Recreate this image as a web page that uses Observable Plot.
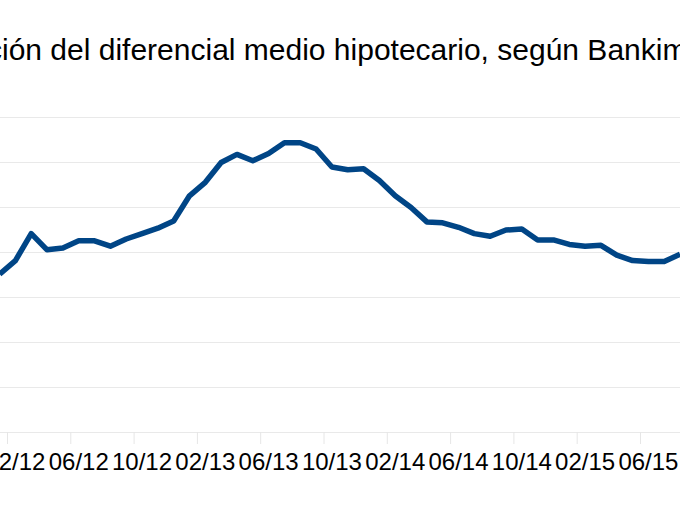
<!DOCTYPE html>
<html>
<head>
<meta charset="utf-8">
<script src="https://cdn.jsdelivr.net/npm/d3@7"></script>
<script src="https://cdn.jsdelivr.net/npm/@observablehq/plot@0.6"></script>
<style>
html, body { margin: 0; padding: 0; background: #fff; }
#wrap { position: relative; width: 680px; height: 510px; overflow: hidden; background: #fff; }
#title { position: absolute; top: 35px; left: 0; white-space: nowrap; font-family: "Liberation Sans", Arial, sans-serif; font-size: 30px; color: #000; line-height: 1; }
#chart { position: absolute; left: 0; top: 90px; }
</style>
</head>
<body>
<div id="wrap">
  <div id="title"><span id="pre">Evoluc</span>ión del diferencial medio hipotecario, según Bankimia</div>
  <div id="chart"></div>
</div>
<script>
// Months shown (01/2012 – 08/2015)
const months = [
  "01/12","02/12","03/12","04/12","05/12","06/12","07/12","08/12","09/12","10/12","11/12","12/12",
  "01/13","02/13","03/13","04/13","05/13","06/13","07/13","08/13","09/13","10/13","11/13","12/13",
  "01/14","02/14","03/14","04/14","05/14","06/14","07/14","08/14","09/14","10/14","11/14","12/14",
  "01/15","02/15","03/15","04/15","05/15","06/15","07/15","08/15"
];
// Average mortgage spread (%)
const spread = [
  1.76, 1.91, 2.21, 2.03, 2.05, 2.13, 2.13, 2.07, 2.15, 2.21, 2.27, 2.35,
  2.63, 2.78, 3.00, 3.09, 3.02, 3.10, 3.22, 3.22, 3.15, 2.95, 2.92, 2.93,
  2.80, 2.63, 2.50, 2.34, 2.33, 2.28, 2.21, 2.18, 2.25, 2.26, 2.14, 2.14,
  2.09, 2.07, 2.08, 1.97, 1.91, 1.90, 1.90, 1.98
];
const gridValues = [0, 0.5, 1, 1.5, 2, 2.5, 3, 3.5];
const tickLabels = ["02/12","06/12","10/12","02/13","06/13","10/13","02/14","06/14","10/14","02/15","06/15"];

const data = months.map((m, i) => ({month: m, u: i + 0.5, value: spread[i]}));
const labelPos = tickLabels.map(l => months.indexOf(l) + 0.5);
const tickPos = tickLabels.map(l => months.indexOf(l));

// position title so that its beginning falls outside the crop
const pre = document.getElementById("pre");
document.getElementById("title").style.left = (2 - pre.getBoundingClientRect().width) + "px";

const step = 15.825;
const chart = Plot.plot({
  width: 680,
  height: 420,
  marginLeft: 0,
  marginRight: 0,
  marginTop: 27,
  marginBottom: 78,
  style: {fontFamily: "'Liberation Sans', Arial, sans-serif", fontSize: "24px", color: "#000", background: "transparent"},
  x: {type: "linear", domain: [1 - 7 / step, 1 + 673 / step], label: null},
  y: {domain: [0, 3.5], axis: null},
  marks: [
    Plot.ruleY(gridValues, {stroke: "#e9e9e9", strokeWidth: 1}),
    Plot.axisX(tickPos, {tickSize: 12, tickFormat: () => "", stroke: "#e6e6e6", strokeOpacity: 1, label: null}),
    Plot.axisX(labelPos, {tickSize: 0, tickPadding: 20, tickFormat: d => months[Math.round(d - 0.5)], fill: "#000", label: null}),
    Plot.line(data, {x: "u", y: "value", stroke: "#004586", strokeWidth: 5.5, strokeLinejoin: "round", strokeLinecap: "butt"})
  ]
});
document.getElementById("chart").appendChild(chart);
</script>
</body>
</html>
